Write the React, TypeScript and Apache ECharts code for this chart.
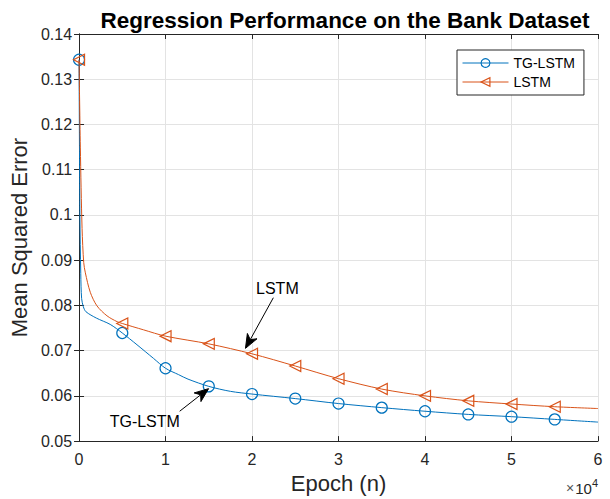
import React, { useEffect, useRef } from "react";
import * as echarts from "echarts";

const TITLE = "Regression Performance on the Bank Dataset";
const X_NAME = "Epoch (n)";
const Y_NAME = "Mean Squared Error";
const SERIES_NAMES = ["TG-LSTM", "LSTM"];

const tgEpochs = [0, 100, 200, 300, 500, 800, 2000, 3600, 5000, 6700, 8600, 10000, 11500, 12600, 15000, 17500, 20000, 25000, 30000, 35000, 40000, 45000, 50000, 55000, 60000];
const tgMse = [0.1343, 0.1, 0.087, 0.0815, 0.0797, 0.0786, 0.0772, 0.0758, 0.0739, 0.0713, 0.0683, 0.0661, 0.0647, 0.0637, 0.0621, 0.061, 0.0604, 0.0594, 0.0583, 0.0574, 0.0566, 0.0559, 0.0554, 0.0548, 0.0542];

const lstmEpochs = [0, 150, 350, 540, 730, 1300, 2070, 3230, 4400, 5000, 7450, 10000, 15000, 20000, 25000, 30000, 35000, 40000, 45000, 50000, 55000, 60000];
const lstmMse = [0.1343, 0.115, 0.097, 0.0895, 0.0872, 0.0829, 0.0799, 0.0777, 0.0764, 0.076, 0.0746, 0.0732, 0.0715, 0.0693, 0.0666, 0.0638, 0.0615, 0.06, 0.0589, 0.0582, 0.0576, 0.0572];

const MARKER_STEP = 5000;
const X_MIN = 0, X_MAX = 60000, X_STEP = 10000;
const Y_MIN = 0.05, Y_MAX = 0.14, Y_STEP = 0.01;

const annotations = [
  { text: "LSTM", at: [22930, 0.0837], tail: [22465, 0.0817], tip: [19240, 0.0705] },
  { text: "TG-LSTM", at: [7600, 0.0543], tail: [11636, 0.0566], tip: [14977, 0.0616] },
];

const FONT = "Liberation Sans, Arial, Helvetica, sans-serif";
const BLUE = "#0072BD";
const ORANGE = "#D95319";
const AXIS = "#262626";
const GRID = "#e3e3e3";
const TRI_LEFT = "path://M10,0 L10,10 L0,5 Z";

function buildData(xs: number[], ys: number[]) {
  return xs.map((x, i) => {
    const marked = x % MARKER_STEP === 0 && x < X_MAX;
    return marked ? { value: [x, ys[i]] } : { value: [x, ys[i]], symbol: "none" };
  });
}

export default function App() {
  const ref = useRef<HTMLDivElement>(null);
  useEffect(() => {
    if (!ref.current) return;
    const chart = echarts.init(ref.current, undefined, { renderer: "svg" });
    const grid = { left: 77, top: 34, width: 521, height: 408 };
    const sideAxis = {
      axisLine: { show: true, lineStyle: { color: AXIS, width: 1 } },
      axisTick: { show: true, inside: true, length: 5, lineStyle: { color: AXIS } },
      axisLabel: { show: false },
      splitLine: { show: false },
    };
    chart.setOption({
      animation: false,
      backgroundColor: "#ffffff",
      textStyle: { fontFamily: FONT },
      title: {
        text: TITLE,
        left: 340,
        top: 4,
        textAlign: "center",
        textStyle: { fontFamily: FONT, fontSize: 22.5, fontWeight: "bold", color: "#000" },
      },
      grid,
      legend: {
        left: 457,
        top: 50,
        orient: "vertical",
        backgroundColor: "#fff",
        borderColor: AXIS,
        borderWidth: 1,
        borderRadius: 0,
        padding: [6, 9, 6, 5],
        itemWidth: 46,
        itemHeight: 11,
        itemGap: 5,
        lineStyle: { width: 1 },
        itemStyle: { borderWidth: 1.2 },
        textStyle: { fontFamily: FONT, fontSize: 14, color: "#000" },
        data: SERIES_NAMES,
      },
      xAxis: [
        {
          type: "value",
          min: X_MIN,
          max: X_MAX,
          interval: X_STEP,
          name: X_NAME,
          nameLocation: "middle",
          nameGap: 25,
          nameTextStyle: { fontFamily: FONT, fontSize: 22, color: AXIS },
          axisLine: { show: true, onZero: false, lineStyle: { color: AXIS, width: 1 } },
          axisTick: { show: true, inside: true, length: 5, lineStyle: { color: AXIS } },
          axisLabel: {
            fontFamily: FONT,
            fontSize: 16,
            color: AXIS,
            margin: 10,
            formatter: (v: number) => String(v / X_STEP),
          },
          splitLine: { show: true, lineStyle: { color: GRID, width: 1 } },
        },
        { type: "value", position: "top", min: X_MIN, max: X_MAX, interval: X_STEP, ...sideAxis },
      ],
      yAxis: [
        {
          type: "value",
          min: Y_MIN,
          max: Y_MAX,
          interval: Y_STEP,
          name: Y_NAME,
          nameLocation: "middle",
          nameGap: 44,
          nameTextStyle: { fontFamily: FONT, fontSize: 22, color: AXIS },
          axisLine: { show: true, onZero: false, lineStyle: { color: AXIS, width: 1 } },
          axisTick: { show: true, inside: true, length: 5, lineStyle: { color: AXIS } },
          axisLabel: {
            fontFamily: FONT,
            fontSize: 16,
            color: AXIS,
            margin: 7,
            formatter: (v: number) => String(Math.round(v * 100) / 100),
          },
          splitLine: { show: true, lineStyle: { color: GRID, width: 1 } },
        },
        { type: "value", position: "right", min: Y_MIN, max: Y_MAX, interval: Y_STEP, ...sideAxis },
      ],
      series: [
        {
          name: SERIES_NAMES[0],
          type: "line",
          xAxisIndex: 0,
          yAxisIndex: 0,
          data: buildData(tgEpochs, tgMse),
          smooth: 0.3,
          showAllSymbol: true,
          symbol: "circle",
          symbolSize: 11,
          color: BLUE,
          lineStyle: { color: BLUE, width: 1 },
          itemStyle: { color: "rgba(255,255,255,0)", borderColor: BLUE, borderWidth: 1.2 },
          z: 3,
        },
        {
          name: SERIES_NAMES[1],
          type: "line",
          xAxisIndex: 0,
          yAxisIndex: 0,
          data: buildData(lstmEpochs, lstmMse),
          smooth: 0.3,
          showAllSymbol: true,
          symbol: TRI_LEFT,
          symbolSize: 11,
          color: ORANGE,
          lineStyle: { color: ORANGE, width: 1 },
          itemStyle: { color: "rgba(255,255,255,0)", borderColor: ORANGE, borderWidth: 1.2 },
          z: 4,
        },
      ],
    });

    const px = (p: number[]) => chart.convertToPixel({ xAxisIndex: 0, yAxisIndex: 0 }, p) as number[];
    const graphics: any[] = [];
    annotations.forEach((a) => {
      const t = px(a.tail);
      const p = px(a.tip);
      const dx = p[0] - t[0], dy = p[1] - t[1];
      const len = Math.hypot(dx, dy);
      const ux = dx / len, uy = dy / len;
      const nx = -uy, ny = ux;
      const L = 14, W = 5.5, N = 4;
      const back = [p[0] - L * ux, p[1] - L * uy];
      const notch = [p[0] - (L - N) * ux, p[1] - (L - N) * uy];
      graphics.push({
        type: "line",
        shape: { x1: t[0], y1: t[1], x2: notch[0], y2: notch[1] },
        style: { stroke: "#000", lineWidth: 1 },
        z: 10,
      });
      graphics.push({
        type: "polygon",
        shape: {
          points: [
            [p[0], p[1]],
            [back[0] + W * nx, back[1] + W * ny],
            notch,
            [back[0] - W * nx, back[1] - W * ny],
          ],
        },
        style: { fill: "#000", stroke: "#000", lineWidth: 1 },
        z: 10,
      });
      const c = px(a.at);
      graphics.push({
        type: "text",
        x: c[0],
        y: c[1],
        style: {
          text: a.text,
          fontFamily: FONT,
          fontSize: 16,
          fill: "#000",
          align: "center",
          verticalAlign: "middle",
        },
        z: 10,
      });
    });
    graphics.push({
      type: "text",
      x: 598,
      y: 488,
      style: {
        text: "{a|×}{b|10}{c|4}",
        align: "right",
        verticalAlign: "middle",
        rich: {
          a: { fontFamily: FONT, fontSize: 14, fill: "#555", padding: [0, 1, 0, 0] },
          b: { fontFamily: FONT, fontSize: 15, fill: AXIS },
          c: { fontFamily: FONT, fontSize: 11, fill: AXIS, verticalAlign: "bottom", padding: [0, 0, 10, 0] },
        },
      },
      z: 10,
    });
    chart.setOption({ graphic: graphics });

    return () => chart.dispose();
  }, []);
  return <div ref={ref} style={{ position: "absolute", left: 0, top: 0, width: 610, height: 499 }} />;
}
